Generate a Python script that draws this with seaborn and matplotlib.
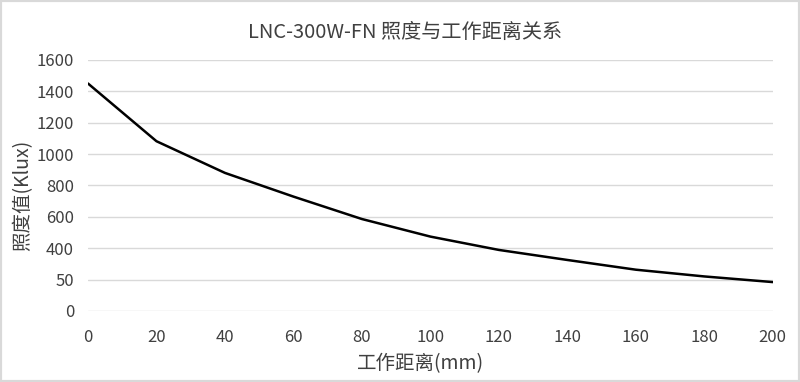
import matplotlib
matplotlib.use("Agg")
import matplotlib.pyplot as plt
import seaborn as sns
import pandas as pd
from matplotlib.patches import Rectangle

distance_mm = [0, 20, 40, 60, 80, 100, 120, 140, 160, 180, 200]
illuminance_klux = [1450, 1082, 880, 729, 586, 474, 389, 325, 263, 220, 184]
y_tick_values = [0, 200, 400, 600, 800, 1000, 1200, 1400, 1600]
y_tick_labels = ["0", "50", "400", "600", "800", "1000", "1200", "1400", "1600"]
x_tick_values = [0, 20, 40, 60, 80, 100, 120, 140, 160, 180, 200]

title = "LNC-300W-FN 照度与工作距离关系"
x_label = "工作距离(mm)"
y_label = "照度值(Klux)"

sns.set_theme(style="white")
plt.rcParams['font.family'] = ['Noto Sans CJK SC', 'DejaVu Sans']

df = pd.DataFrame({"x": distance_mm, "y": illuminance_klux})

fig = plt.figure(figsize=(8, 3.82), dpi=100)
ax = fig.add_axes([0.11, 0.186, 0.856, 0.657])

text_color = "#404040"
grid_color = "#d9d9d9"

sns.lineplot(data=df, x="x", y="y", ax=ax, color="black", linewidth=1.8)

ax.set_xlim(0, 200)
ax.set_ylim(0, 1600)
ax.set_yticks(y_tick_values)
ax.set_yticklabels(y_tick_labels)
ax.set_xticks(x_tick_values)
ax.set_xticklabels([str(v) for v in x_tick_values])

for v in y_tick_values:
    ax.axhline(v, color=grid_color, linewidth=1.0, zorder=0)

for s in ax.spines.values():
    s.set_visible(False)

ax.tick_params(axis="both", length=0, labelsize=12, labelcolor=text_color)
ax.tick_params(axis="x", pad=13)
ax.tick_params(axis="y", pad=10)

ax.set_xlabel(x_label, fontsize=14, color=text_color)
ax.set_ylabel(y_label, fontsize=14, color=text_color)
ax.xaxis.set_label_coords(0.485, -0.211)
ax.yaxis.set_label_coords(-0.095, 0.462)
ax.xaxis.label.set_va("center")
ax.yaxis.label.set_va("center")

fig.text(0.506, 0.916, title, ha="center", va="center", fontsize=14.5, color=text_color)

fig.patches.append(Rectangle((0, 0), 1, 1, transform=fig.transFigure,
                             fill=False, edgecolor="#d9d9d9", linewidth=3))

fig.savefig("out.png", dpi=100)
